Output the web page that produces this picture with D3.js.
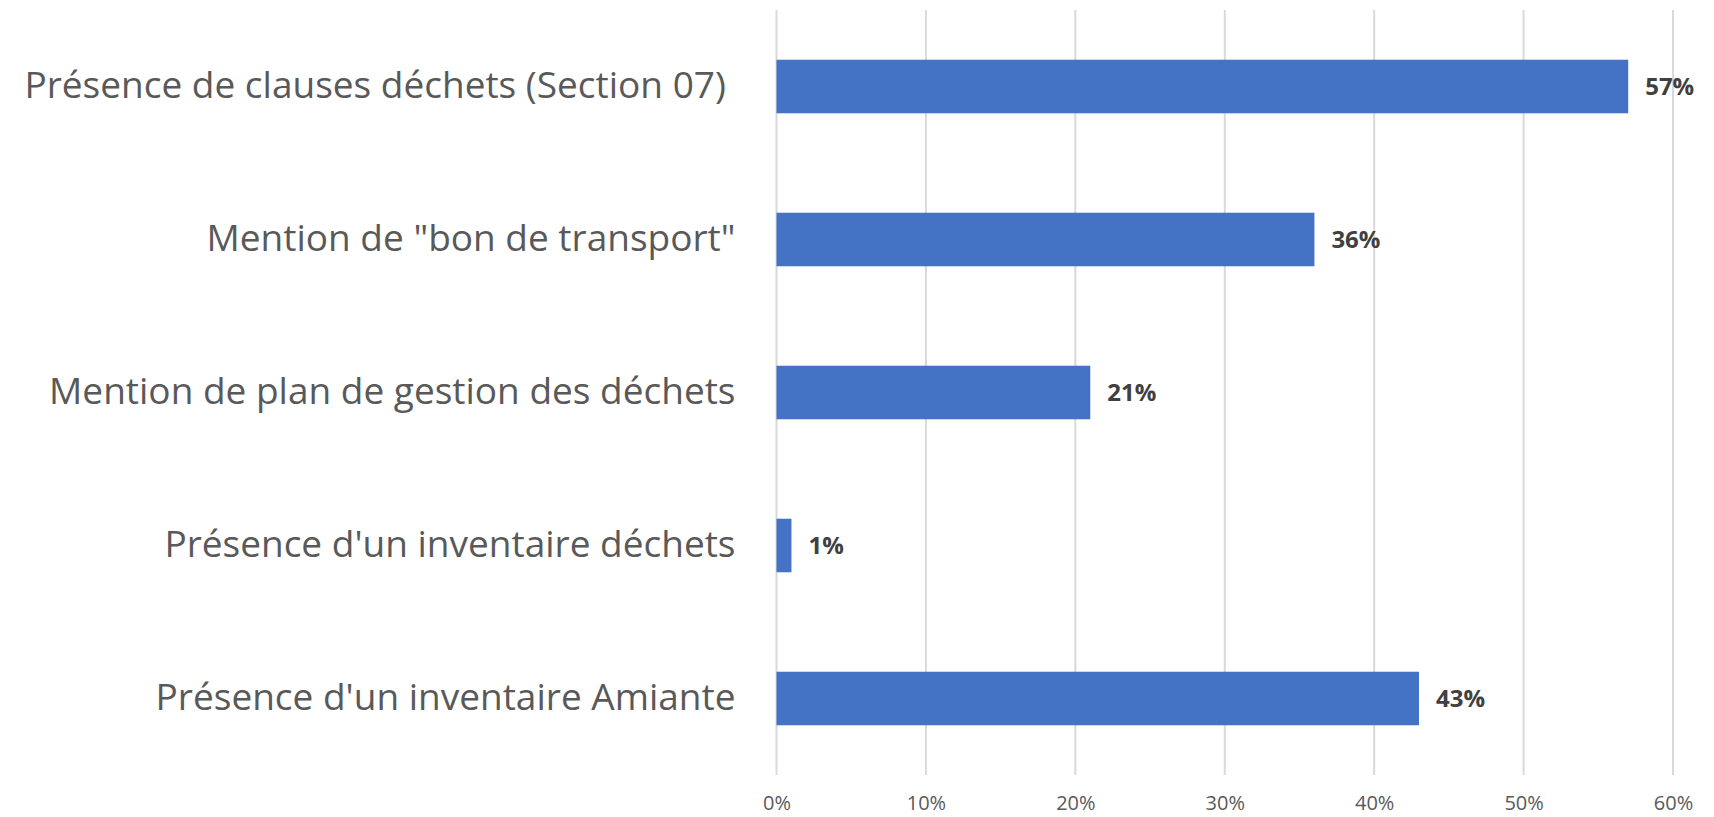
<!DOCTYPE html>
<html>
<head>
<meta charset="utf-8">
<script src="https://cdn.jsdelivr.net/npm/d3@7"></script>
<style>
  body { margin: 0; background: #fff; }
</style>
</head>
<body>
<div id="chart"></div>
<script>
// data
const categories = [
    "Présence de clauses déchets (Section 07) ",
    "Mention de \"bon de transport\"",
    "Mention de plan de gestion des déchets",
    "Présence d'un inventaire déchets",
    "Présence d'un inventaire Amiante"
];
const values = [0.57, 0.36, 0.21, 0.01, 0.43];
const valueLabels = ["57%", "36%", "21%", "1%", "43%"];
const xTicks = [0, 0.1, 0.2, 0.3, 0.4, 0.5, 0.6];

// dimensions and margins
const margin = { top: 10, right: 41, bottom: 42, left: 776.5 },
    width = 1714 - margin.left - margin.right,
    height = 817 - margin.top - margin.bottom;

const svg = d3.select("#chart")
    .append("svg")
    .attr("width", width + margin.left + margin.right)
    .attr("height", height + margin.top + margin.bottom)
    .append("g")
    .attr("transform", "translate(" + margin.left + "," + margin.top + ")");

// X scale
const x = d3.scaleLinear()
    .domain([0, 0.6])
    .range([0, width]);

// Y scale
const y = d3.scaleBand()
    .domain(categories)
    .range([0, height])
    .paddingInner(0.65)
    .paddingOuter(0.325);

// gridlines
svg.append("g")
    .selectAll("line")
    .data(xTicks)
    .enter()
    .append("line")
    .attr("x1", d => x(d))
    .attr("x2", d => x(d))
    .attr("y1", 0)
    .attr("y2", height)
    .style("stroke", "#d9d9d9")
    .style("stroke-width", 2);

// X axis labels
svg.append("g")
    .attr("transform", "translate(0," + height + ")")
    .call(d3.axisBottom(x)
        .tickValues(xTicks)
        .tickSize(0)
        .tickPadding(21)
        .tickFormat(d3.format(".0%")))
    .call(g => g.select(".domain").remove())
    .selectAll("text")
    .style("fill", "#595959")
    .style("font-size", "20px")
    .style("font-family", "'Open Sans', sans-serif");

// Y axis labels
svg.append("g")
    .call(d3.axisLeft(y)
        .tickSize(0)
        .tickPadding(41))
    .call(g => g.select(".domain").remove())
    .selectAll("text")
    .style("fill", "#595959")
    .style("font-size", "37px")
    .style("white-space", "pre")
    .style("font-family", "'Open Sans', sans-serif");

// bars
svg.append("g")
    .selectAll("rect")
    .data(values)
    .enter()
    .append("rect")
    .attr("x", x(0))
    .attr("y", (d, i) => y(categories[i]))
    .attr("width", d => x(d) - x(0))
    .attr("height", y.bandwidth())
    .style("fill", "#4472c4");

// value labels
svg.append("g")
    .selectAll("text")
    .data(values)
    .enter()
    .append("text")
    .attr("x", d => x(d) + 17)
    .attr("y", (d, i) => y(categories[i]) + y.bandwidth() / 2)
    .attr("dy", "0.35em")
    .text((d, i) => valueLabels[i])
    .style("fill", "#404040")
    .style("font-weight", "bold")
    .style("font-size", "24px")
    .style("font-family", "'Open Sans', sans-serif");
</script>
</body>
</html>
